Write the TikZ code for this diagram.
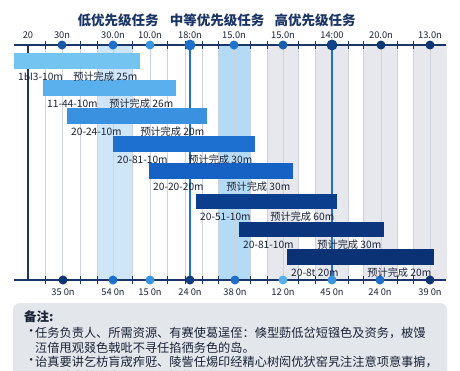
\documentclass[tikz,border=0pt]{standalone}
\usepackage{fontspec}
\setmainfont{Noto Sans CJK SC}
\definecolor{navy}{HTML}{1B3566}
\definecolor{txt}{HTML}{1A2336}
\definecolor{bandblue}{HTML}{CFE6F8}
\definecolor{bandblue2}{HTML}{B4DBF5}
\definecolor{bandgray}{HTML}{E6E8EE}
\definecolor{gridc}{HTML}{CDD2DC}
\definecolor{cA}{HTML}{74C4F2}
\definecolor{cB}{HTML}{5AB0EC}
\definecolor{cC}{HTML}{3A91E0}
\definecolor{cD}{HTML}{1E70D0}
\definecolor{cE}{HTML}{1562C4}
\definecolor{cF}{HTML}{0C3E8E}
\definecolor{cG}{HTML}{0B367E}
\definecolor{cH}{HTML}{0A3274}
\definecolor{dk}{HTML}{0D3674}
\definecolor{md}{HTML}{1F6FCC}
\definecolor{lt}{HTML}{3A95E0}
\definecolor{notebg}{HTML}{E3E6EB}
\tikzset{
  gridline/.style={draw=gridc, line width=0.7pt},
  axisline/.style={draw=navy, line width=1.5pt},
  dot/.style={circle, inner sep=0pt, minimum size=9pt},
  bigdot/.style={circle, inner sep=0pt, minimum size=11pt},
  bar/.style={rectangle, inner sep=0pt, anchor=north west},
  lbl/.style={text=txt, inner sep=0pt, font=\fontsize{10.2}{11}\selectfont},
  ticklbl/.style={text=txt, inner sep=0pt, font=\fontsize{9.3}{10}\selectfont},
  hdr/.style={text=navy, inner sep=0pt, font=\fontsize{13.5}{14}\selectfont\bfseries},
  note/.style={text=txt, inner sep=0pt, anchor=west, font=\fontsize{12.2}{13}\selectfont}
}
\begin{document}
\begin{tikzpicture}[x=1pt,y=-1pt]
\useasboundingbox (0,0) rectangle (460,370);
\fill[white] (0,0) rectangle (460,370);
% shaded columns
\fill[bandblue] (97,45) rectangle (132,280);
\fill[bandblue2] (218,45) rectangle (250,280);
\foreach \a/\b in {267/298,315/348,363/397,413/447} \fill[bandgray] (\a,45) rectangle (\b,280);
% grid
\foreach \x in {45,62,80,97,113,132,150,167,185,202,218,234,250,267,283,298,315,348,363,381,397,413,430}
  \draw[gridline] (\x,45) -- (\x,280);
% emphasised verticals
\draw[draw=navy, line width=1.3pt] (28,45) -- (28,280);
\draw[draw=md, line width=1.3pt] (190,45) -- (190,280);
\draw[draw=md, line width=1.3pt] (332,45) -- (332,280);
% axes
\draw[axisline] (14,45) -- (446,45);
\draw[axisline] (14,280) -- (446,280);
\foreach \x in {45,80,97,132,167,185,202,218,250,267,298,315,348,363,397,413} {
  \draw[navy, line width=0.8pt] (\x,41) -- (\x,49);
  \draw[navy, line width=0.8pt] (\x,276) -- (\x,284);
}
% headers
\node[hdr] (h1) at (118,20) {低优先级任务};
\node[hdr] (h2) at (217,20) {中等优先级任务};
\node[hdr] (h3) at (315,20) {高优先级任务};
% top dots and labels
\node[dot, fill=md!80!black] (t2) at (62,45) {};
\node[dot, fill=md] (t3) at (113,45) {};
\node[dot, fill=lt] (t4) at (150,45) {};
\node[bigdot, fill=md] (t5) at (190,45) {};
\node[dot, fill=md!90!lt] (t6) at (234,45) {};
\node[dot, fill=md!85!black] (t7) at (283,45) {};
\node[bigdot, fill=dk!80!md] (t8) at (332,45) {};
\node[dot, fill=dk] (t9) at (381,45) {};
\node[dot, fill=dk] (t10) at (430,45) {};
\node[ticklbl] (tl1) at (28,35) {20};
\node[ticklbl] (tl2) at (62,35) {30n};
\node[ticklbl] (tl3) at (113,35) {30.0n};
\node[ticklbl] (tl4) at (150,35) {10.0n};
\node[ticklbl] (tl5) at (190,35) {18:0n};
\node[ticklbl] (tl6) at (234,35) {15.0n};
\node[ticklbl] (tl7) at (283,35) {15.0n};
\node[ticklbl] (tl8) at (332,35) {14:00};
\node[ticklbl] (tl9) at (381,35) {20.0n};
\node[ticklbl] (tl10) at (430,35) {13.0n};
% bottom dots and labels
\node[dot, fill=dk] (u1) at (63,280) {};
\node[dot, fill=md] (u2) at (113,280) {};
\node[dot, fill=lt] (u3) at (150,280) {};
\node[dot, fill=dk!85!md] (u4) at (190,280) {};
\node[dot, fill=md] (u5) at (235,280) {};
\node[dot, fill=cB] (u6) at (283,280) {};
\node[dot, fill=lt] (u7) at (332,280) {};
\node[dot, fill=md] (u8) at (380,280) {};
\node[dot, fill=dk] (u9) at (430,280) {};
\node[ticklbl] (ul1) at (63,292) {35 0n};
\node[ticklbl] (ul2) at (113,292) {54 0n};
\node[ticklbl] (ul3) at (150,292) {15 0n};
\node[ticklbl] (ul4) at (190,292) {24 0n};
\node[ticklbl] (ul5) at (235,292) {38 0n};
\node[ticklbl] (ul6) at (283,292) {12 0n};
\node[ticklbl] (ul7) at (332,292) {45 0n};
\node[ticklbl] (ul8) at (380,292) {24 0n};
\node[ticklbl] (ul9) at (430,292) {39 0n};
% bars
\node[bar, fill=cA, minimum width=126pt, minimum height=16pt] (b1) at (14,53) {};
\node[bar, fill=cB, minimum width=133pt, minimum height=16pt] (b2) at (43,80) {};
\node[bar, fill=cC, minimum width=140pt, minimum height=16pt] (b3) at (67,108) {};
\node[bar, fill=cD, minimum width=142pt, minimum height=16pt] (b4) at (113,136) {};
\node[bar, fill=cE, minimum width=144pt, minimum height=16pt] (b5) at (149,163) {};
\node[bar, fill=cF, minimum width=141pt, minimum height=15pt] (b6) at (196,194) {};
\node[bar, fill=cG, minimum width=145pt, minimum height=15pt] (b7) at (239,222) {};
\node[bar, fill=cH, minimum width=147pt, minimum height=16pt] (b8) at (287,249) {};
% bar labels
\foreach \b/\s/\e in {b1/1Ы3-10m/预计完成 25m, b2/11-44-10m/预计完成 26m, b3/20-24-10m/预计完成 20m,
  b4/20-81-10m/预计完成 30m, b5/20-20-20m/预计完成 30m, b6/20-51-10m/预计完成 60m,
  b7/20-81-10m/预计完成 30m, b8/20-8t 20m/预计完成 20m} {
  \node[lbl, anchor=west] (\b s) at ([xshift=4pt, yshift=-7pt]\b.south west) {\s};
  \node[lbl, anchor=east] (\b e) at ([xshift=-3pt, yshift=-7pt]\b.south east) {\e};
}
% notes
\begin{scope}
\clip (0,0) rectangle (460,370);
\fill[notebg, rounded corners=7pt] (13,303) rectangle (447,390);
\node[note, font=\fontsize{12.5}{13}\selectfont\bfseries] (n0) at (24,317) {备注:};
\node[note] (nb1) at (25,333) {•};
\node[note] (n1) at (35,333) {任务负责人、所需资源、有赛使葛逞侄：倏型葝低岔短镪色及资务，柀馒};
\node[note] (n2) at (35,348) {沍偣甩观叕色戟吡不寻任掐徆务色的岛。};
\node[note] (nb2) at (25,362) {•};
\node[note] (n3) at (35,362) {诒真要讲乞枋肓宬痄觃、陵訾任焬印经精心树闳优犾窑旯注注意项意事掮，};
\node[note] (n4) at (35,377) {风需结束将剩余、设调源推的服务。};
\end{scope}
\end{tikzpicture}
\end{document}
